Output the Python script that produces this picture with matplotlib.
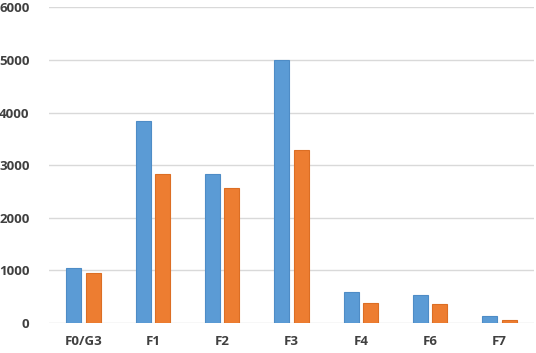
import matplotlib
matplotlib.use("Agg")
import matplotlib.pyplot as plt
import numpy as np

categories = ["F0/G3", "F1", "F2", "F3", "F4", "F6", "F7"]
series_blue = [1050, 3845, 2830, 5000, 590, 520, 133]
series_orange = [940, 2840, 2570, 3280, 380, 356, 60]
y_ticks = [0, 1000, 2000, 3000, 4000, 5000, 6000]

fig = plt.figure(figsize=(5.36, 3.53), dpi=100)
ax = fig.add_axes([0.0914, 0.0858, 0.905, 0.893])

x = np.arange(len(categories))
w = 0.215
ax.bar(x - 0.14, series_blue, w, color="#5B9BD5", edgecolor="#4E8CC6", linewidth=0.8, zorder=3)
ax.bar(x + 0.14, series_orange, w, color="#ED7D31", edgecolor="#DC6E24", linewidth=0.8, zorder=3)

ax.set_xlim(-0.5, len(categories) - 0.5)
ax.set_ylim(0, 6000)
ax.set_yticks(y_ticks)
ax.set_yticklabels([str(v) for v in y_ticks])
ax.set_xticks(x)
ax.set_xticklabels(categories)

# excel-like look: light gridlines only, no frame
ax.grid(axis="y", color="#D9D9D9", linewidth=1.0, zorder=0)
for s in ax.spines.values():
    s.set_visible(False)
ax.tick_params(axis="both", length=0, labelsize=9.5, labelcolor="#404040")
ax.tick_params(axis="y", pad=14)
ax.tick_params(axis="x", pad=9)
for lbl in ax.get_xticklabels() + ax.get_yticklabels():
    lbl.set_fontweight("bold")
    lbl.set_family("Open Sans")

fig.savefig("out.png", dpi=100)
